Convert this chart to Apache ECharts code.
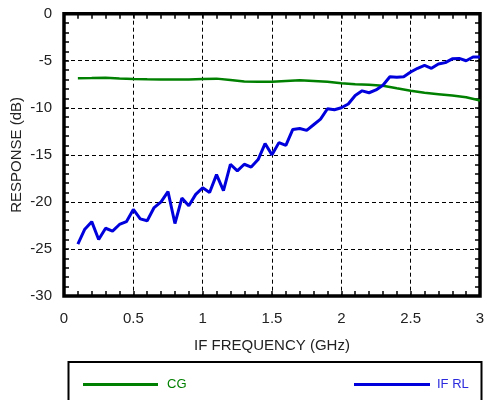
<!DOCTYPE html>
<html><head><meta charset="utf-8">
<script src="https://cdn.jsdelivr.net/npm/echarts@6/dist/echarts.min.js"></script>
<style>html,body{margin:0;padding:0;background:#fff}#c{width:488px;height:400px}</style>
</head><body><div id="c"></div>
<script>
var rlFreq = [0.10,0.15,0.20,0.25,0.30,0.35,0.40,0.45,0.50,0.55,0.60,0.65,0.70,0.75,0.80,0.85,0.90,0.95,1.00,1.05,1.10,1.15,1.20,1.25,1.30,1.35,1.40,1.45,1.50,1.55,1.60,1.65,1.70,1.75,1.80,1.85,1.90,1.95,2.00,2.05,2.10,2.15,2.20,2.25,2.30,2.35,2.40,2.45,2.50,2.55,2.60,2.65,2.70,2.75,2.80,2.85,2.90,2.95,3.00];
var ifRL = [-24.5,-22.9,-22.1,-24.0,-22.8,-23.1,-22.4,-22.1,-20.8,-21.8,-22.0,-20.6,-20.0,-18.9,-22.3,-19.6,-20.4,-19.2,-18.5,-19.0,-17.1,-18.8,-16.0,-16.7,-16.0,-16.3,-15.5,-13.8,-15.0,-13.7,-14.0,-12.3,-12.2,-12.4,-11.8,-11.2,-10.1,-10.2,-10.0,-9.6,-8.7,-8.2,-8.4,-8.1,-7.6,-6.7,-6.75,-6.7,-6.2,-5.8,-5.5,-5.8,-5.35,-5.2,-4.8,-4.75,-5.0,-4.6,-4.6];
var cgFreq = [0.1,0.2,0.3,0.4,0.5,0.6,0.7,0.8,0.9,1.0,1.1,1.2,1.3,1.4,1.5,1.6,1.7,1.8,1.9,2.0,2.1,2.2,2.3,2.4,2.5,2.6,2.7,2.8,2.9,3.0];
var cg = [-6.85,-6.83,-6.8,-6.88,-6.95,-6.97,-6.98,-7.0,-7.0,-6.95,-6.9,-7.05,-7.2,-7.22,-7.23,-7.15,-7.08,-7.15,-7.23,-7.38,-7.5,-7.55,-7.65,-7.92,-8.18,-8.4,-8.55,-8.7,-8.87,-9.22];
var seriesNames = ['CG','IF RL'];
var xTitle = 'IF FREQUENCY (GHz)';
var yTitle = 'RESPONSE (dB)';

function pairs(xs, ys){ return xs.map(function(x,i){return [x, ys[i]];}); }
var FONT = 'Liberation Sans, Arial, Helvetica, sans-serif';
var GREEN = '#008000', BLUE = '#0000dd';
var gridLine = {show:true, lineStyle:{color:'#000', width:1, type:[4,3]}};
var tick = {show:true, inside:true, length:5, lineStyle:{color:'#000', width:1.5}};
var minor = {show:true, splitNumber:5, length:5, lineStyle:{color:'#000', width:1.5}};
var noLine = {show:false, onZero:false};

var chart = echarts.init(document.getElementById('c'), null, {renderer:'canvas'});
chart.setOption({
  animation:false,
  grid:{left:64, right:8, top:13.7, bottom:104, containLabel:false, outerBoundsMode:'none',
        show:true, borderColor:'#000', borderWidth:3.5, backgroundColor:'transparent'},
  xAxis:[{
    type:'value', min:0, max:3, interval:0.5, position:'bottom',
    axisLine:noLine, axisTick:tick, minorTick:minor,
    splitLine:gridLine,
    axisLabel:{color:'#222', fontSize:15, fontFamily:FONT, margin:15, formatter:function(v){return String(v);}},
    name:xTitle, nameLocation:'middle', nameGap:42, nameTextStyle:{color:'#222', fontSize:15, fontFamily:FONT}
  },{
    type:'value', min:0, max:3, interval:0.5, position:'top',
    axisLine:noLine, axisTick:tick, minorTick:minor,
    splitLine:{show:false}, axisLabel:{show:false}
  }],
  yAxis:[{
    type:'value', min:-30, max:0, interval:5, position:'left',
    axisLine:noLine, axisTick:tick, minorTick:minor,
    splitLine:gridLine,
    axisLabel:{color:'#222', fontSize:15, fontFamily:FONT, margin:12},
    name:yTitle, nameLocation:'middle', nameGap:40, nameRotate:90, nameMoveOverlap:false,
    nameTextStyle:{color:'#222', fontSize:15, fontFamily:FONT}
  },{
    type:'value', min:-30, max:0, interval:5, position:'right',
    axisLine:noLine, axisTick:tick, minorTick:minor,
    splitLine:{show:false}, axisLabel:{show:false}
  }],
  legend:[{
    data:[seriesNames[0]], left:78, top:373, itemWidth:75, itemHeight:3, icon:'rect',
    textStyle:{color:GREEN, fontSize:13, fontFamily:FONT, padding:[0,0,0,4]}
  },{
    data:[seriesNames[1]], left:349, top:373, itemWidth:76, itemHeight:3, icon:'rect',
    textStyle:{color:'#2b2bdd', fontSize:13, fontFamily:FONT, padding:[0,0,0,2]}
  }],
  graphic:[{
    type:'rect', shape:{x:68.5, y:362, width:413, height:60},
    style:{fill:'none', stroke:'#000', lineWidth:2}, z:100
  }],
  series:[{
    name:seriesNames[0], type:'line', data:pairs(cgFreq, cg), showSymbol:false, symbol:'none',
    lineStyle:{color:GREEN, width:2.5}, itemStyle:{color:GREEN}, z:3
  },{
    name:seriesNames[1], type:'line', data:pairs(rlFreq, ifRL), showSymbol:false, symbol:'none',
    lineStyle:{color:BLUE, width:3}, itemStyle:{color:BLUE}, z:4
  }]
});
</script></body></html>
